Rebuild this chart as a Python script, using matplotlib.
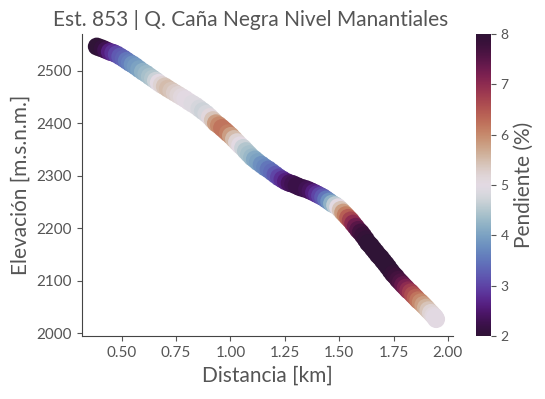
import matplotlib
matplotlib.use("Agg")
import matplotlib.pyplot as plt

# distancia (km), elevacion (m.s.n.m.), pendiente (%)
dist = [0.385, 0.398, 0.412, 0.428, 0.445, 0.461, 0.477, 0.493, 0.509, 0.523,
        0.537, 0.550, 0.564, 0.580, 0.597, 0.613, 0.629, 0.643, 0.657, 0.670,
        0.684, 0.698, 0.712, 0.728, 0.744, 0.760, 0.776, 0.792, 0.809, 0.825,
        0.841, 0.857, 0.873, 0.889, 0.905, 0.919, 0.933, 0.947, 0.961, 0.975,
        0.988, 1.002, 1.016, 1.030, 1.044, 1.058, 1.071, 1.085, 1.099, 1.112,
        1.126, 1.143, 1.159, 1.175, 1.191, 1.207, 1.223, 1.239, 1.255, 1.272,
        1.288, 1.304, 1.320, 1.336, 1.352, 1.368, 1.384, 1.398, 1.412, 1.426,
        1.440, 1.454, 1.467, 1.481, 1.495, 1.507, 1.518, 1.530, 1.541, 1.553,
        1.564, 1.576, 1.587, 1.599, 1.610, 1.622, 1.633, 1.645, 1.656, 1.668,
        1.679, 1.691, 1.702, 1.714, 1.725, 1.737, 1.748, 1.760, 1.771, 1.783,
        1.794, 1.806, 1.817, 1.829, 1.840, 1.852, 1.863, 1.875, 1.887, 1.899,
        1.910, 1.922, 1.933, 1.940, 1.946]
elev = [2546, 2544, 2542, 2539, 2536, 2534, 2531, 2527, 2523, 2519,
        2515, 2512, 2508, 2503, 2498, 2494, 2489, 2485, 2481, 2477,
        2473, 2470, 2466, 2462, 2458, 2454, 2450, 2446, 2441, 2437,
        2433, 2428, 2423, 2418, 2412, 2406, 2400, 2396, 2391, 2386,
        2381, 2376, 2370, 2364, 2358, 2353, 2347, 2341, 2335, 2331,
        2326, 2321, 2316, 2312, 2307, 2302, 2297, 2293, 2289, 2286,
        2284, 2281, 2278, 2276, 2274, 2271, 2268, 2265, 2262, 2259,
        2255, 2251, 2247, 2244, 2240, 2235, 2230, 2225, 2220, 2215,
        2209, 2203, 2197, 2192, 2186, 2179, 2172, 2167, 2161, 2155,
        2149, 2144, 2138, 2132, 2126, 2119, 2113, 2108, 2102, 2097,
        2092, 2087, 2082, 2078, 2073, 2068, 2063, 2059, 2054, 2049,
        2044, 2039, 2034, 2031, 2027]
pend = [2.0, 2.0, 2.1, 2.3, 2.6, 2.8, 3.0, 3.2, 3.3, 3.5,
        3.6, 3.8, 3.9, 4.0, 4.2, 4.3, 4.4, 4.5, 4.7, 5.0,
        5.2, 5.4, 5.5, 5.4, 5.3, 5.2, 5.1, 5.0, 5.0, 4.9,
        4.9, 4.8, 4.7, 4.8, 5.1, 5.4, 5.8, 6.0, 6.2, 6.2,
        6.1, 5.8, 5.5, 5.2, 5.0, 4.7, 4.5, 4.4, 4.3, 4.1,
        4.0, 3.8, 3.7, 3.5, 3.4, 3.2, 3.0, 2.8, 2.6, 2.4,
        2.3, 2.2, 2.2, 2.2, 2.3, 2.4, 2.6, 2.8, 3.0, 3.2,
        3.5, 3.8, 4.2, 4.6, 5.0, 5.4, 5.8, 6.1, 6.4, 6.7,
        7.0, 7.3, 7.5, 7.7, 7.8, 7.9, 8.0, 8.0, 8.0, 8.0,
        8.0, 8.0, 8.0, 8.0, 8.0, 8.0, 7.9, 7.8, 7.7, 7.6,
        7.4, 7.2, 7.0, 6.8, 6.6, 6.4, 6.2, 6.0, 5.8, 5.6,
        5.4, 5.2, 5.1, 5.0, 5.0]

gris = "#555555"
plt.rcParams['font.family'] = ['Lato', 'DejaVu Sans']
plt.rcParams['text.color'] = gris
plt.rcParams['axes.labelcolor'] = gris
plt.rcParams['xtick.color'] = gris
plt.rcParams['ytick.color'] = gris

fig = plt.figure(figsize=(5.45, 3.99), dpi=100)
ax = fig.add_axes([0.150, 0.158, 0.681, 0.757])
cax = fig.add_axes([0.873, 0.158, 0.0275, 0.757])

sc = ax.scatter(dist, elev, c=pend, cmap='twilight_shifted', vmin=2, vmax=8,
                s=165, linewidths=0)

ax.set_xlim(0.316, 2.023)
ax.set_ylim(1995, 2570)
ax.set_xticks([0.5, 0.75, 1.0, 1.25, 1.5, 1.75, 2.0])
ax.set_yticks([2000, 2100, 2200, 2300, 2400, 2500])
for s in ['top', 'right']:
    ax.spines[s].set_visible(False)
for s in ['left', 'bottom']:
    ax.spines[s].set_color('#444444')
ax.tick_params(labelsize=11)

ax.set_title("Est. 853 | Q. Caña Negra Nivel Manantiales", fontsize=15,
             color=gris, x=0.455)
ax.set_xlabel("Distancia [km]", fontsize=15)
ax.set_ylabel("Elevación [m.s.n.m.]", fontsize=15)

cb = fig.colorbar(sc, cax=cax)
cb.outline.set_visible(False)
cb.set_ticks([2, 3, 4, 5, 6, 7, 8])
cb.ax.tick_params(labelsize=10)
cb.set_label("Pendiente (%)", fontsize=15, labelpad=4)

fig.savefig("out.png", dpi=100)
